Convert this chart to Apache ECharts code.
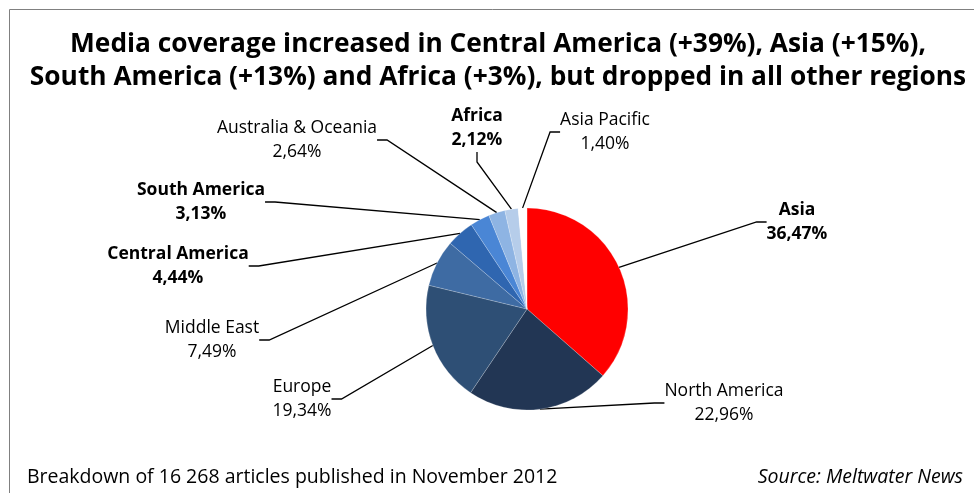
<!DOCTYPE html>
<html>
<head>
<meta charset="utf-8">
<script src="https://cdn.jsdelivr.net/npm/echarts@6/dist/echarts.min.js"></script>
<style>
html,body{margin:0;padding:0;background:#fff;}
#chart{width:974px;height:493px;}
</style>
</head>
<body>
<div id="chart"></div>
<script>
// ---- data ----
var regions = ['Asia', 'North America', 'Europe', 'Middle East', 'Central America',
               'South America', 'Australia & Oceania', 'Africa', 'Asia Pacific'];
var shares = [36.47, 22.96, 19.34, 7.49, 4.44, 3.13, 2.64, 2.12, 1.40];
var boldRegions = ['Asia', 'Central America', 'South America', 'Africa'];
var titleLines = [
  'Media coverage increased in Central America (+39%), Asia (+15%),',
  'South America (+13%) and Africa (+3%), but dropped in all other regions'
];
var footLeft = 'Breakdown of 16 268 articles published in November 2012';
var footRight = 'Source: Meltwater News';

// ---- styles ----
var colors = ['#ff0000', '#223654', '#2e4f75', '#3e6ba3', '#2f66b0',
              '#4a86d5', '#8eb4e3', '#b6cdea', '#ffffff'];
// label centre positions (layout only)
var labelPos = [
  [797, 222], [724, 403], [302, 399], [212, 340], [178, 266],
  [201, 202], [297, 140], [477, 128], [605, 132]
];
var FONT = 'Open Sans';

function fmt(v) { return v.toFixed(2).replace('.', ',') + '%'; }

var data = regions.map(function (name, i) {
  var bold = boldRegions.indexOf(name) >= 0;
  return {
    name: name,
    value: shares[i],
    itemStyle: { color: colors[i] },
    label: { fontWeight: bold ? 'bold' : 'normal' }
  };
});

var chart = echarts.init(document.getElementById('chart'));
chart.setOption({
  animation: false,
  backgroundColor: '#ffffff',
  title: {
    text: titleLines.join('\n'),
    left: 493,
    top: 23,
    textAlign: 'center',
    textStyle: {
      fontFamily: FONT, fontWeight: 'bold', fontSize: 26.3, lineHeight: 33, color: '#000'
    }
  },
  graphic: [
    { type: 'rect', shape: { x: 9.5, y: 9.5, width: 1000, height: 600 },
      style: { fill: null, stroke: '#808080', lineWidth: 1 }, silent: true },
    { type: 'text', left: 27, top: 467,
      style: { text: footLeft, font: '19.5px ' + FONT, fill: '#000' } },
    { type: 'text', right: 11, top: 467,
      style: { text: footRight, font: 'italic 19.5px ' + FONT, fill: '#000' } }
  ],
  series: [{
    type: 'pie',
    center: [527, 309],
    radius: 101,
    startAngle: 90,
    clockwise: true,
    avoidLabelOverlap: false,
    data: data,
    itemStyle: { borderColor: 'rgba(255,255,255,0.4)', borderWidth: 0.5 },
    label: {
      show: true,
      position: 'outside',
      formatter: function (p) { return p.name + '\n' + fmt(p.value); },
      fontFamily: FONT,
      fontSize: 17.5,
      lineHeight: 24,
      color: '#000',
      align: 'center'
    },
    labelLine: {
      show: true,
      length: 20,
      length2: 10,
      lineStyle: { color: '#000', width: 1.3 }
    },
    labelLayout: function (params) {
      var p = labelPos[params.dataIndex];
      return { x: p[0], y: p[1], align: 'center', verticalAlign: 'middle' };
    },
    emphasis: { disabled: true }
  }]
});
</script>
</body>
</html>
